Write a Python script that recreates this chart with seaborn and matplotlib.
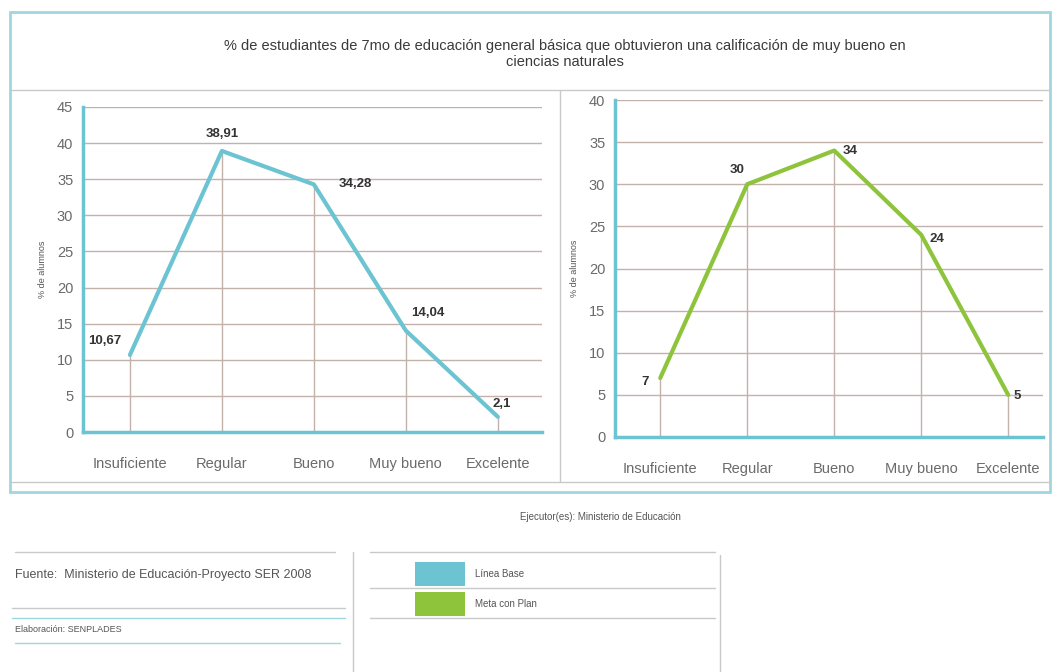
import seaborn as sns
import pandas as pd
import matplotlib.pyplot as plt
from matplotlib.patches import Rectangle
from matplotlib.lines import Line2D

sns.set_style("white")
plt.rcParams['font.family'] = ['Liberation Sans', 'DejaVu Sans']

categorias = ["Insuficiente", "Regular", "Bueno", "Muy bueno", "Excelente"]
linea_base = [10.67, 38.91, 34.28, 14.04, 2.1]
meta_plan = [7, 30, 34, 24, 5]
etiquetas_base = ["10,67", "38,91", "34,28", "14,04", "2,1"]
etiquetas_meta = ["7", "30", "34", "24", "5"]

titulo = ("% de estudiantes de 7mo de educación general básica que obtuvieron una calificación de muy bueno en\n"
          "ciencias naturales")

azul = "#6cc4d2"
verde = "#8dc43c"
grid_col = "#c2b2aa"
borde = "#9fd6df"

W, H = 1053, 672
fig = plt.figure(figsize=(W / 100, H / 100), dpi=100)


def px(x0, y0, x1, y1):
    # pixel box -> figure fraction [left, bottom, width, height]
    return [x0 / W, 1 - y1 / H, (x1 - x0) / W, (y1 - y0) / H]


def fline(x0, y0, x1, y1, color="#c9c9c9", lw=1.0):
    fig.add_artist(Line2D([x0 / W, x1 / W], [1 - y0 / H, 1 - y1 / H], color=color, lw=lw,
                          transform=fig.transFigure))


# frames
fig.add_artist(Rectangle((10 / W, 1 - 492 / H), 1040 / W, 480 / H, transform=fig.transFigure,
                         fill=False, ec=borde, lw=2))
fline(12, 90, 1050, 90)
fline(560, 90, 560, 482)
fline(12, 482, 1050, 482)

fig.text(565 / W, 1 - 54 / H, titulo, ha="center", va="center", fontsize=10.5, color="#3a3a3a",
         linespacing=1.15)

paneles = [
    (px(83, 107, 542, 432), linea_base, etiquetas_base, azul, 45, (-0.51, 4.48)),
    (px(615, 100, 1043, 437), meta_plan, etiquetas_meta, verde, 40, (-0.52, 4.40)),
]
offsets_base = [(-6, 10, "right", "center"), (0, 8, "center", "bottom"), (18, 0, "left", "center"),
                (4, 8, "left", "bottom"), (-4, 5, "left", "bottom")]
offsets_meta = [(-8, -3, "right", "center"), (-2, 6, "right", "bottom"), (6, 0, "left", "center"),
                (6, -3, "left", "center"), (4, -1, "left", "center")]

for (rect, vals, labs, color, ymax, xl), offs in zip(paneles, [offsets_base, offsets_meta]):
    ax = fig.add_axes(rect)
    df = pd.DataFrame({"cat": categorias, "val": vals})
    ax.set_ylim(0, ymax)
    ax.set_xlim(*xl)
    ax.set_yticks(range(0, ymax + 1, 5))
    ax.yaxis.grid(True, color=grid_col, lw=1)
    ax.set_axisbelow(True)
    ax.vlines(range(len(vals)), 0, vals, color=grid_col, lw=1, zorder=1)
    sns.lineplot(data=df, x="cat", y="val", color=color, lw=3, ax=ax, zorder=3, sort=False)
    for i, (v, t) in enumerate(zip(vals, labs)):
        dx, dy, ha, va = offs[i]
        ax.annotate(t, (i, v), xytext=(dx, dy), textcoords="offset points", ha=ha, va=va,
                    fontsize=9.5, fontweight="bold", color="#333333")
    for s in ["top", "right"]:
        ax.spines[s].set_visible(False)
    for s in ["left", "bottom"]:
        ax.spines[s].set_color(azul)
        ax.spines[s].set_linewidth(2.5)
    ax.tick_params(axis="y", length=0, pad=7, labelsize=10.5, labelcolor="#6a6a6a")
    ax.tick_params(axis="x", length=0, pad=18, labelsize=10.5, labelcolor="#6a6a6a")
    ax.set_xlabel("")
    ax.set_ylabel("% de alumnos", fontsize=6.5, color="#555555", labelpad=7)

# footer
fig.text(600 / W, 1 - 517 / H, "Ejecutor(es): Ministerio de Educación", ha="center", va="center",
         fontsize=7, color="#555555")
fline(15, 552, 335, 552)
fline(12, 608, 345, 608)
fline(12, 618, 345, 618, color=borde)
fline(15, 643, 340, 643, color=borde)
fline(353, 552, 353, 672)
fline(370, 552, 715, 552)
fline(370, 588, 715, 588)
fline(370, 618, 715, 618)
fline(720, 555, 720, 672)
fig.text(15 / W, 1 - 575 / H, "Fuente:  Ministerio de Educación-Proyecto SER 2008", ha="left", va="center",
         fontsize=9, color="#555555")
fig.text(15 / W, 1 - 630 / H, "Elaboración: SENPLADES", ha="left", va="center", fontsize=6.5,
         color="#555555")
for y0, c, t in [(562, azul, "Línea Base"), (592, verde, "Meta con Plan")]:
    fig.add_artist(Rectangle((415 / W, 1 - (y0 + 24) / H), 50 / W, 24 / H, transform=fig.transFigure,
                             fc=c, ec="none"))
    fig.text(475 / W, 1 - (y0 + 12) / H, t, ha="left", va="center", fontsize=7, color="#555555")

fig.savefig("out.png", dpi=100)
